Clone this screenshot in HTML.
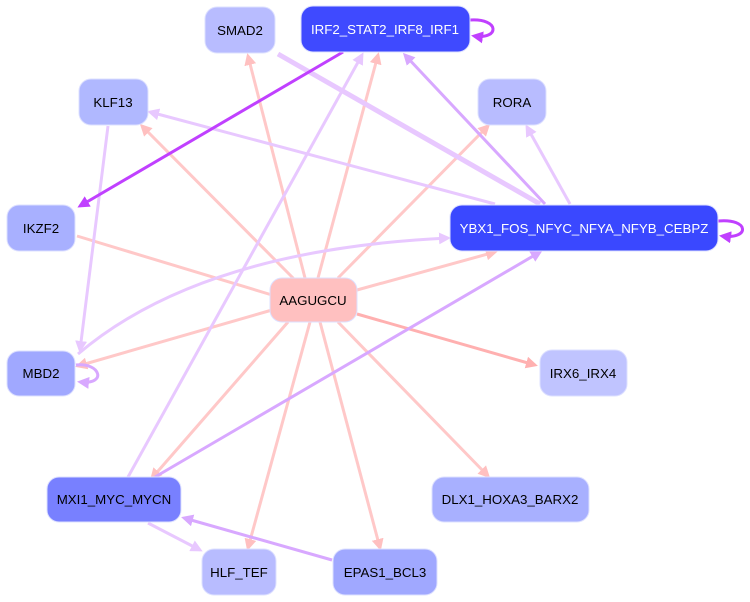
<!DOCTYPE html>
<html><head><meta charset="utf-8"><style>body{margin:0;background:#fff}svg{display:block}</style></head><body>
<svg width="750" height="602" viewBox="0 0 750 602" xmlns="http://www.w3.org/2000/svg" font-family="Liberation Sans, sans-serif" font-size="13.3">
<defs>
<marker id="p" markerWidth="4" markerHeight="4" refX="3" refY="2" orient="auto" markerUnits="strokeWidth"><path d="M0,0L4,2L0,4z" fill="#ffc0c0"/></marker>
<marker id="p2" markerWidth="4" markerHeight="4" refX="3" refY="2" orient="auto" markerUnits="strokeWidth"><path d="M0,0L4,2L0,4z" fill="#ffb0b0"/></marker>
<marker id="l" markerWidth="4" markerHeight="4" refX="3" refY="2" orient="auto" markerUnits="strokeWidth"><path d="M0,0L4,2L0,4z" fill="#e8c8ff"/></marker>
<marker id="m" markerWidth="4" markerHeight="4" refX="3" refY="2" orient="auto" markerUnits="strokeWidth"><path d="M0,0L4,2L0,4z" fill="#d8a8ff"/></marker>
<marker id="d" markerWidth="4" markerHeight="4" refX="3" refY="2" orient="auto" markerUnits="strokeWidth"><path d="M0,0L4,2L0,4z" fill="#c040ff"/></marker>
</defs>
<g fill="none" stroke-width="3">
<g stroke="#ffc8c8" marker-end="url(#p)">
<line x1="305" y1="278" x2="248" y2="56"/>
<line x1="318" y1="278" x2="378" y2="55"/>
<line x1="295" y1="280" x2="142" y2="126"/>
<line x1="338" y1="278" x2="488" y2="126"/>
<line x1="357" y1="290" x2="495" y2="252"/>
<line x1="272" y1="310" x2="78" y2="366"/>
<line x1="288" y1="322" x2="152" y2="478"/>
<line x1="310" y1="322" x2="248" y2="548"/>
<line x1="320" y1="322" x2="380" y2="548"/>
<line x1="338" y1="322" x2="488" y2="476"/>
</g>
<line x1="272" y1="295" x2="77" y2="236" stroke="#ffc8c8"/>
<line x1="357" y1="314" x2="535" y2="365" stroke="#ffb0b0" marker-end="url(#p2)"/>
<g stroke="#e8c8ff" marker-end="url(#l)">
<line x1="495" y1="204" x2="150" y2="112"/>
<line x1="570" y1="204" x2="527" y2="127"/>
<line x1="108" y1="126" x2="80" y2="350"/>
<path d="M78,354 Q200,250 448,238"/>
<line x1="128" y1="477" x2="362" y2="55"/>
<line x1="148" y1="523" x2="200" y2="550"/>
</g>
<line x1="540" y1="204" x2="278" y2="54" stroke="#e8c8ff" stroke-width="5"/>
<g stroke="#d8a8ff" marker-end="url(#m)">
<line x1="545" y1="204" x2="405" y2="55"/>
<line x1="155" y1="477" x2="540" y2="252"/>
<line x1="332" y1="560" x2="184" y2="518"/>
<path d="M76,365 C100,362 108,385 80,382"/>
</g>
<g stroke="#c040ff" marker-end="url(#d)">
<line x1="343" y1="52" x2="80" y2="206"/>
<path d="M470,20 C500,18 500,40 474,36"/>
<path d="M718,221 C750,218 750,240 722,236"/>
</g>
</g>
<g stroke="#dde0ff" stroke-width="1">
<rect x="205" y="7" width="70" height="46" rx="12" fill="#b8bcff"/>
<rect x="301" y="6" width="169" height="46" rx="12" fill="#3f4aff"/>
<rect x="478" y="79" width="68" height="46" rx="12" fill="#b8bcff"/>
<rect x="79" y="79" width="69" height="46" rx="12" fill="#b0b8ff"/>
<rect x="7" y="205" width="68" height="46" rx="12" fill="#a8b0ff"/>
<rect x="450" y="205" width="268" height="46" rx="12" fill="#3a48ff"/>
<rect x="270" y="278" width="87" height="44" rx="12" fill="#ffc0c0"/>
<rect x="7" y="351" width="68" height="45" rx="12" fill="#a0a8ff"/>
<rect x="540" y="350" width="87" height="46" rx="12" fill="#c0c4ff"/>
<rect x="47" y="477" width="134" height="45" rx="12" fill="#7880ff"/>
<rect x="432" y="477" width="157" height="45" rx="12" fill="#a8b0ff"/>
<rect x="202" y="549" width="74" height="46" rx="12" fill="#b8bcff"/>
<rect x="333" y="549" width="104" height="46" rx="12" fill="#a0a8ff"/>
</g>
<g text-anchor="middle" fill="#000">
<text x="240" y="35">SMAD2</text>
<text x="385" y="34" fill="#fff">IRF2_STAT2_IRF8_IRF1</text>
<text x="512" y="107">RORA</text>
<text x="113" y="107">KLF13</text>
<text x="41" y="233">IKZF2</text>
<text x="584" y="233" fill="#fff">YBX1_FOS_NFYC_NFYA_NFYB_CEBPZ</text>
<text x="313" y="305">AAGUGCU</text>
<text x="41" y="378">MBD2</text>
<text x="583" y="378">IRX6_IRX4</text>
<text x="114" y="504">MXI1_MYC_MYCN</text>
<text x="510" y="504">DLX1_HOXA3_BARX2</text>
<text x="239" y="577">HLF_TEF</text>
<text x="385" y="577">EPAS1_BCL3</text>
</g>
</svg>
</body></html>
